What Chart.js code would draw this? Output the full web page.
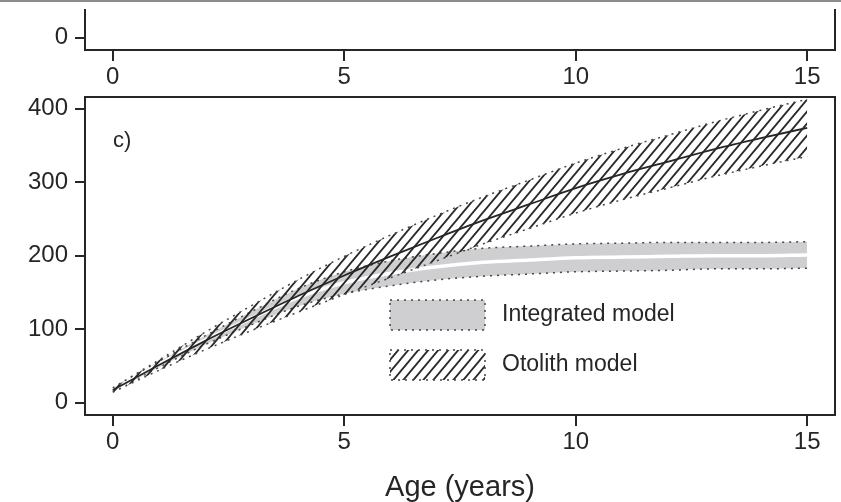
<!DOCTYPE html>
<html>
<head>
<meta charset="utf-8">
<script src="https://cdn.jsdelivr.net/npm/chart.js@4.4.0/dist/chart.umd.min.js"></script>
<style>
  html, body { margin: 0; padding: 0; background: #fff; }
  #wrap { position: relative; width: 841px; height: 502px; overflow: hidden; background: #fff; }
  #rule { position: absolute; left: 0; top: 0; width: 841px; height: 2px; background: #8c8c8c; }
  #chart_b { position: absolute; left: 0; top: 9px; }
  #chart_c { position: absolute; left: 0; top: 0; }
</style>
</head>
<body>
<div id="wrap">
  <div id="rule"></div>
  <canvas id="chart_b" width="841" height="81"></canvas>
  <canvas id="chart_c" width="841" height="502"></canvas>
</div>
<script>
// ages and length-at-age for the two models
const ages = [0, 1, 2, 3, 4, 5, 6, 7, 8, 9, 10, 11, 12, 13, 14, 15];

const otolithMean  = [17, 51, 84, 115, 145, 173, 199, 224, 248, 270, 292, 311, 328, 345, 360, 374];
const otolithUpper = [20, 58, 96, 132, 167, 199, 228, 255, 280, 303, 326, 346, 364, 382, 398, 413];
const otolithLower = [14, 44, 72,  98, 123, 147, 170, 193, 216, 237, 258, 276, 292, 308, 322, 335];

const integratedMean  = [17, 52, 85, 115, 143, 163, 176, 185, 191, 194, 197, 198, 199, 200, 200, 201];
const integratedUpper = [19, 56, 91, 124, 155, 178, 193, 203, 210, 213, 216, 217, 218, 218, 218, 219];
const integratedLower = [15, 48, 79, 106, 131, 148, 159, 167, 172, 175, 178, 179, 180, 182, 182, 183];

const seriesNames = ['Integrated model', 'Otolith model'];
const panelLabel = 'c)';

const xTicks = [0, 5, 10, 15];
const yTicks = [0, 100, 200, 300, 400];
const yTicksTop = [0];

const FONT = '"Liberation Sans", Arial, Helvetica, sans-serif';
const INK = '#262626';
const BAND_GREY = '#cfcfd1';

function pts(arr) {
    return ages.map((a, i) => ({x: a, y: arr[i]}));
}

function hatchPattern() {
    const c = document.createElement('canvas');
    c.width = 10;
    c.height = 12;
    const g = c.getContext('2d');
    g.strokeStyle = '#2a2a2a';
    g.lineWidth = 1.8;
    g.beginPath();
    for (const dx of [-10, 0, 10]) {
        g.moveTo(dx - 1, 13.2);
        g.lineTo(dx + 11, -1.2);
    }
    g.stroke();
    return document.createElement('canvas').getContext('2d').createPattern(c, 'repeat');
}
const hatch = hatchPattern();

// box round the plot region (top edge optional)
const framePlugin = {
    id: 'frame',
    afterDraw(chart, args, opts) {
        const {left, right, top, bottom} = chart.chartArea;
        const ctx = chart.ctx;
        ctx.save();
        ctx.strokeStyle = INK;
        ctx.lineWidth = 2;
        ctx.beginPath();
        if (opts.top === false) {
            ctx.moveTo(left, top);
            ctx.lineTo(left, bottom);
            ctx.lineTo(right, bottom);
            ctx.lineTo(right, top);
        } else {
            ctx.rect(left, top, right - left, bottom - top);
        }
        ctx.stroke();
        ctx.restore();
    }
};

// panel letter and the key inside the plot
const keyPlugin = {
    id: 'key',
    afterDatasetsDraw(chart) {
        const ctx = chart.ctx;
        const area = chart.chartArea;
        ctx.save();
        ctx.fillStyle = INK;
        ctx.font = '22px ' + FONT;
        ctx.textBaseline = 'middle';
        ctx.textAlign = 'left';
        ctx.fillText(panelLabel, area.left + 28, area.top + 44);

        const bx = area.left + 305, bw = 95, bh = 30;
        const rows = [area.top + 203, area.top + 253];
        const fills = [BAND_GREY, hatch];
        rows.forEach((by, i) => {
            ctx.fillStyle = fills[i];
            ctx.fillRect(bx, by, bw, bh);
            ctx.strokeStyle = '#444';
            ctx.lineWidth = 1.5;
            ctx.setLineDash([2, 5]);
            ctx.strokeRect(bx, by, bw, bh);
            ctx.setLineDash([]);
            ctx.fillStyle = INK;
            ctx.font = '23px ' + FONT;
            ctx.fillText(seriesNames[i], bx + 112, by + bh / 2);
        });
        ctx.restore();
    }
};

function axisX(height, withTitle) {
    return {
        type: 'linear',
        min: -0.6,
        max: 15.6,
        afterBuildTicks: s => { s.ticks = xTicks.map(v => ({value: v})); },
        afterFit: s => { s.height = height; },
        border: {display: false},
        grid: {drawOnChartArea: false, drawTicks: true, tickLength: 11, color: INK, lineWidth: 2},
        ticks: {color: INK, font: {size: 24, family: FONT}, padding: 2, maxRotation: 0},
        title: {
            display: withTitle,
            text: 'Age (years)',
            color: INK,
            font: {size: 29, family: FONT, lineHeight: 1},
            padding: {top: 0, bottom: 0}
        }
    };
}

function axisY(min, max, ticks) {
    return {
        type: 'linear',
        min: min,
        max: max,
        afterBuildTicks: s => { s.ticks = ticks.map(v => ({value: v})); },
        afterFit: s => {
            s.width = 85;
            s.paddingTop = 0;
            s.paddingBottom = 0;
        },
        border: {display: false},
        grid: {drawOnChartArea: false, drawTicks: true, tickLength: 10, color: INK, lineWidth: 2},
        ticks: {color: INK, font: {size: 24, family: FONT}, padding: 7}
    };
}

const dotted = {borderColor: '#474747', borderWidth: 1.5, borderDash: [2, 5]};

// panel b, only its lower edge shows
new Chart(document.getElementById('chart_b').getContext('2d'), {
    type: 'line',
    data: {datasets: []},
    options: {
        responsive: false,
        animation: false,
        layout: {padding: {left: 0, right: 6, top: 0, bottom: 0}},
        plugins: {legend: {display: false}, tooltip: {enabled: false}, frame: {top: false}},
        scales: {
            x: axisX(40, false),
            y: axisY(-17, 39, yTicksTop)
        }
    },
    plugins: [framePlugin]
});

// panel c
new Chart(document.getElementById('chart_c').getContext('2d'), {
    type: 'line',
    data: {
        datasets: [
            {
                label: seriesNames[1],
                data: pts(otolithMean),
                borderColor: INK,
                borderWidth: 1.8,
                fill: false
            },
            Object.assign({label: seriesNames[1] + ' upper', data: pts(otolithUpper), fill: false}, dotted),
            Object.assign({label: seriesNames[1] + ' lower', data: pts(otolithLower), fill: '-1', backgroundColor: hatch}, dotted),
            {
                label: seriesNames[0],
                data: pts(integratedMean),
                borderColor: '#ffffff',
                borderWidth: 3.5,
                fill: false
            },
            Object.assign({label: seriesNames[0] + ' upper', data: pts(integratedUpper), fill: false}, dotted),
            Object.assign({label: seriesNames[0] + ' lower', data: pts(integratedLower), fill: '-1', backgroundColor: BAND_GREY}, dotted)
        ]
    },
    options: {
        responsive: false,
        animation: false,
        elements: {
            point: {radius: 0},
            line: {cubicInterpolationMode: 'monotone'}
        },
        layout: {padding: {left: 0, right: 6, top: 97, bottom: 0}},
        plugins: {legend: {display: false}, tooltip: {enabled: false}},
        scales: {
            x: axisX(87, true),
            y: axisY(-17, 416, yTicks)
        }
    },
    plugins: [framePlugin, keyPlugin]
});
</script>
</body>
</html>
